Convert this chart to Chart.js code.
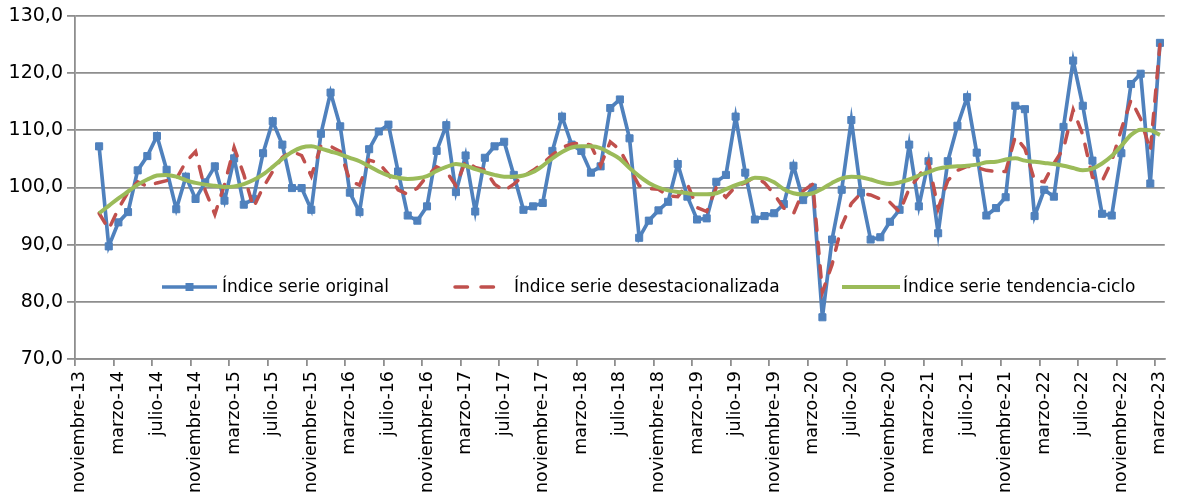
<!DOCTYPE html>
<html>
<head>
<meta charset="utf-8">
<script src="https://cdn.jsdelivr.net/npm/chart.js@4.4.1/dist/chart.umd.min.js"></script>
<style>
html,body{margin:0;padding:0;background:#fff;}
#wrap{position:relative;width:1186px;height:501px;}
</style>
</head>
<body>
<div id="wrap"><canvas id="c"></canvas></div>
<script>
// ---- categories (monthly, noviembre-13 .. marzo-23) ----
const MONTH_NAMES = ['enero','febrero','marzo','abril','mayo','junio','julio','agosto','septiembre','octubre','noviembre','diciembre'];
const FIRST_MONTH_INDEX = 10;   // noviembre
const FIRST_YEAR = 2013;
const MONTH_COUNT = 113;
const LABEL_EVERY = 4;          // a tick label every 4 months
const CATEGORIES = [];
for (let i = 0; i < MONTH_COUNT; i++) {
  const k = FIRST_MONTH_INDEX + i;
  CATEGORIES.push(MONTH_NAMES[k % 12] + '-' + String((FIRST_YEAR + Math.floor(k / 12)) % 100).padStart(2, '0'));
}

// ---- series values (nov-13, dic-13 empty; then ene-14 .. mar-23) ----
const SERIE_ORIGINAL = [
  null, null,
  107.2, 89.7, 93.9, 95.7, 103.0, 105.5, 109.0, 103.1, 96.2, 101.9, 98.0, 100.9,
  103.7, 97.7, 105.1, 97.0, 98.0, 106.0, 111.6, 107.5, 99.9, 99.9, 96.1, 109.4,
  116.6, 110.7, 99.1, 95.7, 106.7, 109.8, 111.0, 102.8, 95.1, 94.2, 96.7, 106.4,
  110.9, 99.2, 105.6, 95.8, 105.2, 107.2, 108.0, 102.2, 96.1, 96.7, 97.3, 106.4,
  112.4, 107.5, 106.4, 102.6, 103.7, 113.9, 115.4, 108.6, 91.2, 94.2, 96.0, 97.5,
  104.1, 98.4, 94.4, 94.6, 101.0, 102.2, 112.4, 102.6, 94.4, 95.0, 95.5, 97.1,
  103.8, 97.8, 100.0, 77.3, 90.9, 99.6, 111.8, 99.1, 90.9, 91.3, 94.0, 96.1,
  107.5, 96.7, 104.6, 92.0, 104.6, 110.8, 115.8, 106.1, 95.1, 96.4, 98.3, 114.3,
  113.7, 95.0, 99.6, 98.4, 110.6, 122.2, 114.3, 104.7, 95.4, 95.1, 106.0, 118.1,
  119.9, 100.7, 125.3
];
const SERIE_DESESTACIONALIZADA = [
  null, null,
  95.5, 92.7, 96.3, 99.2, 101.0, 100.2, 100.8, 101.2, 101.5, 104.5, 106.3, 99.5,
  95.3, 100.5, 107.0, 102.3, 96.5, 100.0, 102.8, 105.3, 106.3, 105.6, 102.0, 107.3,
  107.2, 106.3, 101.2, 100.4, 104.8, 104.3, 102.3, 99.6, 98.8, 99.9, 102.0, 103.6,
  102.8, 100.3, 104.6, 103.5, 103.1, 100.6, 99.4, 100.6, 102.0, 103.0, 104.2, 105.7,
  107.0, 107.6, 107.8, 107.4, 103.8, 108.0, 106.6, 103.4, 100.3, 99.8, 99.7, 98.5,
  98.4, 100.6, 96.5, 95.8, 100.0, 98.3, 100.2, 100.8, 101.9, 100.8, 98.8, 96.4,
  95.4, 99.4, 100.6, 81.7, 86.5, 93.3, 97.2, 99.0, 98.7, 98.0, 97.4, 95.7,
  99.8, 102.0, 104.5, 96.3, 101.2, 103.0, 103.7, 103.5, 103.0, 102.8, 102.8, 108.9,
  106.8, 101.2, 101.0, 104.2, 106.8, 113.6, 109.2, 101.8, 101.1, 104.6, 110.2, 115.3,
  112.0, 106.4, 125.0
];
const SERIE_TENDENCIA = [
  null, null,
  95.5, 96.8, 98.1, 99.3, 100.5, 101.4, 102.1, 102.2, 101.9, 101.3, 100.8, 100.5,
  100.3, 100.1, 100.2, 100.6, 101.3, 102.3, 103.6, 105.0, 106.2, 107.0, 107.2, 106.8,
  106.3, 105.8, 105.2, 104.6, 103.7, 102.8, 102.1, 101.7, 101.5, 101.6, 102.0, 102.9,
  103.6, 104.1, 103.8, 103.2, 102.7, 102.2, 101.9, 101.9, 102.1, 102.7, 103.8, 105.1,
  106.2, 107.0, 107.2, 107.2, 106.9, 106.0, 105.0, 103.4, 102.0, 100.8, 100.0, 99.5,
  99.2, 99.0, 98.8, 98.8, 99.0, 99.7, 100.4, 101.0, 101.7, 101.6, 100.9, 99.7,
  99.0, 98.8, 99.0, 99.8, 100.8, 101.6, 101.9, 101.8, 101.4, 100.9, 100.6, 100.9,
  101.4, 102.1, 102.7, 103.3, 103.6, 103.7, 103.8, 104.0, 104.4, 104.5, 104.9, 105.1,
  104.7, 104.5, 104.3, 104.1, 103.8, 103.4, 103.0, 103.3, 104.2, 105.5, 107.3, 109.2,
  110.1, 110.0, 109.2
];

const SERIES_NAMES = ['Índice serie original', 'Índice serie desestacionalizada', 'Índice serie tendencia-ciclo'];

// ---- value axis ----
const Y_MIN = 70, Y_MAX = 130, Y_STEP = 10;

const FONT = '"DejaVu Sans", "Liberation Sans", sans-serif';
const GRID = '#8e8e8e';
const BLUE = '#4F81BD', RED = '#C0504D', GREEN = '#9BBB59';

const inlineLegend = {
  id: 'inlineLegend',
  afterDraw(chart, args, opts) {
    const ctx = chart.ctx;
    const y = opts.y;
    ctx.save();
    opts.items.forEach(it => {
      const ds = chart.data.datasets[it.dataset];
      ctx.save();
      ctx.strokeStyle = ds.borderColor;
      ctx.lineWidth = ds.borderWidth;
      ctx.lineCap = it.cap || 'butt';
      ctx.setLineDash(it.dash || []);
      ctx.beginPath();
      ctx.moveTo(it.x0, y);
      ctx.lineTo(it.x1, y);
      ctx.stroke();
      ctx.restore();
      if (ds.pointRadius > 0) {
        ctx.fillStyle = ds.pointBackgroundColor;
        ctx.fillRect((it.x0 + it.x1) / 2 - 4, y - 4, 8, 8);
      }
      ctx.font = '17px ' + FONT;
      ctx.fillStyle = '#000';
      ctx.textBaseline = 'middle';
      ctx.textAlign = 'left';
      ctx.fillText(ds.label, it.tx, y + 1);
    });
    ctx.restore();
  }
};

new Chart(document.getElementById('c'), {
  type: 'line',
  data: {
    labels: CATEGORIES,
    datasets: [
      {
        label: SERIES_NAMES[0], data: SERIE_ORIGINAL,
        borderColor: BLUE, backgroundColor: BLUE, borderWidth: 3.7,
        pointStyle: 'rect', pointRadius: 5, pointBorderWidth: 1,
        pointBackgroundColor: BLUE, pointBorderColor: BLUE,
        tension: 0, order: 3
      },
      {
        label: SERIES_NAMES[1], data: SERIE_DESESTACIONALIZADA,
        borderColor: RED, backgroundColor: RED, borderWidth: 3.5,
        borderDash: [11.5, 12], borderCapStyle: 'round',
        pointRadius: 0, tension: 0, order: 2
      },
      {
        label: SERIES_NAMES[2], data: SERIE_TENDENCIA,
        borderColor: GREEN, backgroundColor: GREEN, borderWidth: 4,
        pointRadius: 0, cubicInterpolationMode: 'monotone', order: 1
      }
    ]
  },
  options: {
    responsive: true,
    maintainAspectRatio: false,
    animation: false,
    devicePixelRatio: 1,
    layout: { padding: { left: 0, top: 16, right: 11, bottom: 0 } },
    plugins: {
      legend: { display: false },
      tooltip: { enabled: false },
      inlineLegend: {
        y: 287,
        items: [
          { dataset: 0, x0: 162, x1: 217, tx: 222 },
          { dataset: 1, x0: 455, x1: 494, tx: 514, dash: [12.5, 13.5], cap: 'round' },
          { dataset: 2, x0: 842, x1: 900, tx: 903 }
        ]
      }
    },
    scales: {
      x: {
        type: 'category',
        offset: true,
        grid: {
          offset: true,
          drawOnChartArea: false,
          drawTicks: true,
          tickLength: 7,
          lineWidth: 1.8,
          color: (c) => (c.index % LABEL_EVERY === 0 && c.index < MONTH_COUNT) ? GRID : 'rgba(0,0,0,0)'
        },
        border: { display: true, color: GRID, width: 1.8 },
        ticks: {
          autoSkip: false,
          maxRotation: 90,
          minRotation: 90,
          padding: 5,
          color: '#000',
          font: { family: FONT, size: 17.5 },
          callback: function (v, i) { return i % LABEL_EVERY === 0 ? CATEGORIES[i] : ''; }
        },
        afterFit: (s) => { s.height = 142; }
      },
      y: {
        min: Y_MIN, max: Y_MAX,
        grid: { color: GRID, lineWidth: 1.8, tickLength: 8, drawTicks: true },
        border: { display: true, color: GRID, width: 1.8 },
        ticks: {
          stepSize: Y_STEP,
          padding: 4,
          color: '#000',
          font: { family: FONT, size: 19 },
          callback: (v) => Number(v).toFixed(1).replace('.', ',')
        },
        afterFit: (s) => { s.width = 75; }
      }
    }
  },
  plugins: [inlineLegend]
});
</script>
</body>
</html>
